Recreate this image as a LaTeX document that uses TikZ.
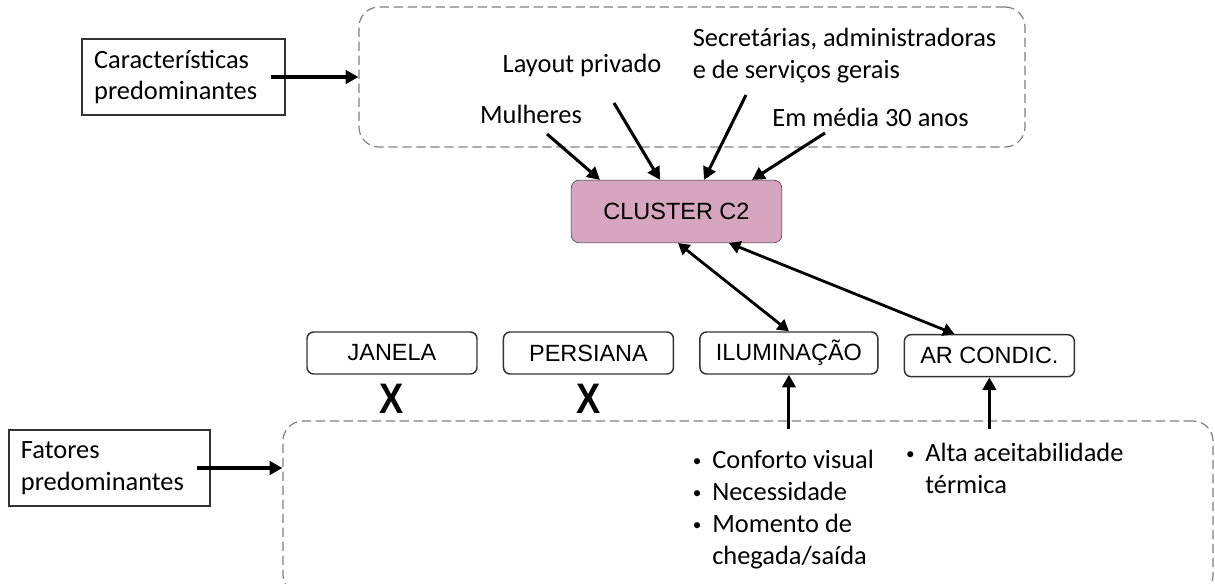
\documentclass[tikz,border=0pt]{standalone}
\usepackage{fontspec}
\setmainfont{Carlito}
\newfontfamily\arialfont{Liberation Sans}
\usetikzlibrary{arrows.meta, calc, positioning}

\definecolor{clusterpink}{HTML}{D5A6BD}
\definecolor{grpgray}{HTML}{808080}
\definecolor{boxgray}{HTML}{333333}

\newcommand{\bul}{\makebox[22.5pt][c]{\raisebox{1.5pt}{\scalebox{0.65}{\textbullet}}}}

\begin{document}
\begin{tikzpicture}[
  x=0.75pt, y=-0.75pt,
  arr/.style={line width=2.3pt, -{Triangle[length=9.5pt, width=10pt]}},
  dblarr/.style={line width=2.1pt, {Triangle[length=8.5pt, width=9.5pt]}-{Triangle[length=8.5pt, width=9.5pt]}},
  grp/.style={draw=grpgray, line width=0.9pt, dash pattern=on 7pt off 3.5pt, rounded corners=15pt, inner sep=0pt},
  hdr/.style={draw=boxgray, line width=1.1pt, inner xsep=9pt, inner ysep=0pt, text width=134pt,
              minimum height=57pt, align=left, font=\fontsize{19.8}{23.5}\selectfont},
  lbl/.style={inner sep=0pt, align=left, font=\fontsize{19.8}{24}\selectfont},
  item/.style={draw=boxgray, line width=1.1pt, rounded corners=5pt, minimum width=127.5pt,
               minimum height=31.5pt, inner sep=0pt, font=\arialfont\fontsize{17.6}{20}\selectfont},
  xmark/.style={inner sep=0pt, font=\arialfont\bfseries\fontsize{32}{32}\selectfont}
]
  \clip (0,0) rectangle (1215,584);

  % dashed groups
  \node[grp, minimum width=499.5pt, minimum height=105pt] (topgrp) at (692,77) {};
  \node[grp, minimum width=697.5pt, minimum height=130.5pt] (botgrp) at (748,508) {};

  % side headers
  \node[hdr] (caract) at (183.5,77) {Características\\predominantes};
  \node[hdr, text width=132.75pt] (fatores) at (109.5,468) {Fatores\\predominantes};

  % cluster
  \node[draw=boxgray, fill=clusterpink, rounded corners=6pt, minimum width=158pt, minimum height=47pt,
        font=\arialfont\fontsize{17.6}{20}\selectfont] (cluster) at (676.5,211.5) {CLUSTER C2};

  % characteristics
  \node[lbl] (mul) at (531,114) {Mulheres};
  \node[lbl] (lay) at (582,65) {Layout privado};
  \node[lbl] (sec) at (844.5,56) {Secretárias, administradoras\\e de serviços gerais};
  \node[lbl] (med) at (870.5,117) {Em média 30 anos};

  % factors
  \node[item] (janela) at (392,353) {JANELA};
  \node[item, right=18.75pt of janela] (persiana) {PERSIANA};
  \node[item, right=18.75pt of persiana, minimum width=133.5pt] (ilum) {ILUMINAÇÃO};
  \node[item, right=18.75pt of ilum, yshift=-2pt] (arcond) {AR CONDIC.};

  \node[xmark, below=6.5pt of janela] (xjan) {\scalebox{0.85}[1]{X}};
  \node[xmark, below=6.5pt of persiana] (xper) {\scalebox{0.85}[1]{X}};

  \node[lbl, anchor=north west] (ilumlist) at (682,450)
    {\bul Conforto visual\\\bul Necessidade\\\bul Momento de\\\hspace*{22.5pt}chegada/saída};
  \node[lbl, anchor=north west] (arlist) at (895,443)
    {\bul Alta aceitabilidade\\\hspace*{22.5pt}térmica};

  % arrows
  \draw[arr] ([xshift=-11pt]caract.east) -- (topgrp.west);
  \draw[arr] ([xshift=-10.5pt]fatores.east) -- (fatores.east -| botgrp.west);

  \draw[arr] ($(mul)+(16,20)$) -- ($(cluster.north)+(-76.5,0)$);
  \draw[arr] ($(lay)+(32,38)$) -- ($(cluster.north)+(-16.5,0)$);
  \draw[arr] ($(sec)+(-98.5,39)$) -- ($(cluster.north)+(27.5,0)$);
  \draw[arr] ($(med)+(-45.5,16)$) -- ($(cluster.north)+(75.5,0)$);

  \draw[dblarr] ($(cluster.south)+(1.5,0)$) -- (ilum.north);
  \draw[dblarr] ($(cluster.south)+(52.5,0)$) -- ($(arcond.north)+(-35,0)$);

  \draw[arr] ([yshift=-41pt]ilum.south) -- (ilum.south);
  \draw[arr] ([yshift=-39pt]arcond.south) -- (arcond.south);
\end{tikzpicture}
\end{document}
